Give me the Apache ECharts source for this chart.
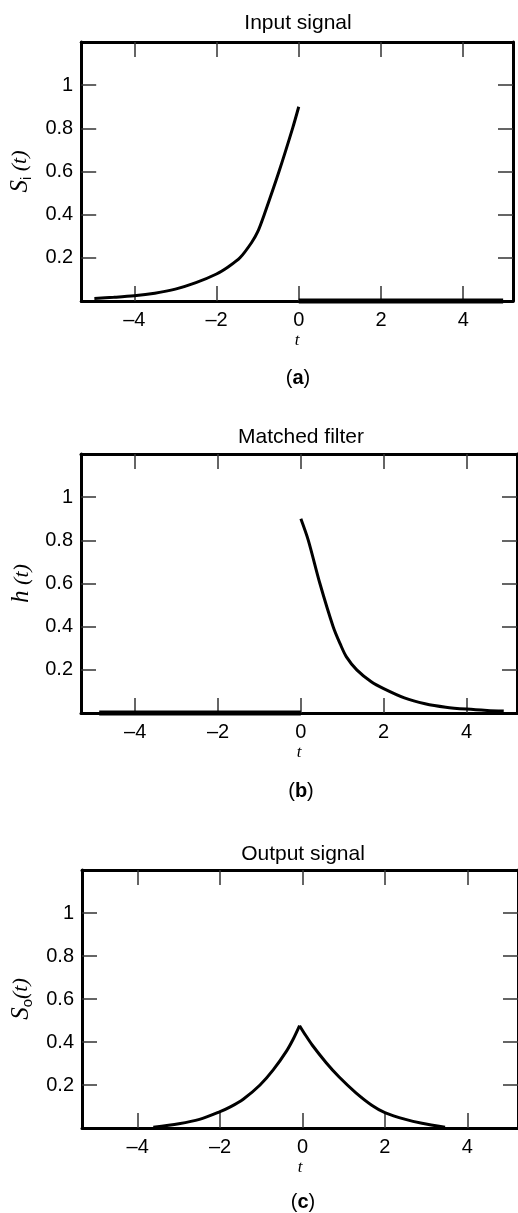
<!DOCTYPE html>
<html>
<head>
<meta charset="utf-8">
<script src="https://cdn.jsdelivr.net/npm/echarts@6/dist/echarts.min.js"></script>
<style>
html,body{margin:0;padding:0;background:#fff;}
#c{width:518px;height:1213px;}
</style>
</head>
<body>
<div id="c"></div>
<script>
// ---- data ----
const titles = ['Input signal', 'Matched filter', 'Output signal'];
const panelLetters = ['a', 'b', 'c'];
const xTickValues = [-4, -2, 0, 2, 4];
const xTickLabels = ['\u20134', '\u20132', '0', '2', '4'];
const yTickValues = [0.2, 0.4, 0.6, 0.8, 1];
const yTickLabels = ['0.2', '0.4', '0.6', '0.8', '1'];

// (a) input signal
const tA = [-4.97, -4.5, -4, -3.5, -3, -2.5, -2, -1.7, -1.43, -1.15, -1.0, -0.84, -0.48, -0.15, 0];
const sA = [0.012, 0.017, 0.024, 0.036, 0.055, 0.085, 0.125, 0.16, 0.2, 0.27, 0.32, 0.4, 0.6, 0.8, 0.9];
const zeroA_t = [0, 4.97];
const zeroA_v = [0, 0];

// (b) matched filter
const tB = [0, 0.18, 0.46, 0.78, 0.95, 1.1, 1.35, 1.7, 2.0, 2.5, 3.0, 3.5, 4.0, 4.5, 4.9];
const hB = [0.9, 0.8, 0.6, 0.4, 0.32, 0.26, 0.2, 0.145, 0.113, 0.07, 0.043, 0.027, 0.018, 0.012, 0.009];
const zeroB_t = [-4.87, 0];
const zeroB_v = [0, 0];

// (c) output signal (left and right of the cusp)
const tCL = [-3.62, -3.0, -2.5, -2.0, -1.75, -1.43, -1.03, -0.71, -0.38, -0.22, -0.07];
const sCL = [0.004, 0.02, 0.04, 0.076, 0.098, 0.135, 0.2, 0.27, 0.36, 0.415, 0.476];
const tCR = [-0.07, 0.08, 0.24, 0.57, 0.89, 1.29, 1.69, 2.0, 2.5, 2.9, 3.46];
const sCR = [0.476, 0.43, 0.385, 0.305, 0.237, 0.165, 0.105, 0.072, 0.04, 0.022, 0.004];

// ---- layout ----
const SANS = 'Liberation Sans, Arial, Helvetica, sans-serif';
const SERIF = 'Liberation Serif, Times New Roman, serif';
const grids = [
  {left: 80, top: 42, width: 433, height: 259, xmin: -5.29, xmax: 5.21},
  {left: 81, top: 454, width: 436, height: 259, xmin: -5.31, xmax: 5.22},
  {left: 82, top: 870, width: 438, height: 258, xmin: -5.35, xmax: 5.23}
];
const titleY = [23, 437, 854];
const letterY = [378, 791, 1202];
const centerX = [298, 301, 303];
const yNames = [
  '{s|S}{sub|i}{p| (t)}',
  '{s|h}{p| (t)}',
  '{s|S}{sub|o}{p|(t)}'
];

const pairs = (xs, ys) => xs.map((x, i) => [x, ys[i]]);
const fmtX = v => { const i = xTickValues.indexOf(v); return i >= 0 ? xTickLabels[i] : ''; };
const fmtY = v => { const i = yTickValues.findIndex(u => Math.abs(u - v) < 1e-9); return i >= 0 ? yTickLabels[i] : ''; };

const lineAxis = {show: true, onZero: false, lineStyle: {color: '#000', width: 3}};
const tickStyle = {color: '#333', width: 1.5};

const option = {
  animation: false,
  backgroundColor: '#fff',
  grid: grids.map(g => ({left: g.left, top: g.top, width: g.width, height: g.height, containLabel: false})),
  xAxis: [],
  yAxis: [],
  series: [],
  graphic: []
};

grids.forEach((g, k) => {
  option.xAxis.push({
    type: 'value', gridIndex: k, position: 'bottom', min: g.xmin, max: g.xmax,
    axisLine: lineAxis,
    axisTick: {show: true, inside: true, length: 15, lineStyle: tickStyle, customValues: xTickValues},
    axisLabel: {show: true, margin: 9, color: '#000', fontSize: 20, fontFamily: SANS, customValues: xTickValues, formatter: fmtX},
    splitLine: {show: false},
    name: 't', nameLocation: 'middle', nameGap: 31,
    nameTextStyle: {fontFamily: SERIF, fontStyle: 'italic', fontSize: 17, color: '#000'}
  });
  option.xAxis.push({
    type: 'value', gridIndex: k, position: 'top', min: g.xmin, max: g.xmax,
    axisLine: lineAxis,
    axisTick: {show: true, inside: true, length: 15, lineStyle: tickStyle, customValues: xTickValues},
    axisLabel: {show: false},
    splitLine: {show: false}
  });
  option.yAxis.push({
    type: 'value', gridIndex: k, position: 'left', min: 0, max: 1.2,
    axisLine: lineAxis,
    axisTick: {show: true, inside: true, length: 15, lineStyle: tickStyle, customValues: yTickValues},
    axisLabel: {show: true, margin: 8, color: '#000', fontSize: 20, fontFamily: SANS, customValues: yTickValues, formatter: fmtY},
    splitLine: {show: false},
    name: yNames[k], nameLocation: 'middle', nameRotate: 90, nameGap: 44,
    nameTextStyle: {
      color: '#000',
      rich: {
        s: {fontFamily: SERIF, fontStyle: 'italic', fontSize: 25, color: '#000', lineHeight: 28, verticalAlign: 'middle'},
        p: {fontFamily: SERIF, fontStyle: 'italic', fontSize: 22, color: '#000', lineHeight: 28, verticalAlign: 'middle'},
        sub: {fontFamily: SANS, fontSize: 15, color: '#000', lineHeight: 28, verticalAlign: 'bottom'}
      }
    }
  });
  option.yAxis.push({
    type: 'value', gridIndex: k, position: 'right', min: 0, max: 1.2,
    axisLine: lineAxis,
    axisTick: {show: true, inside: true, length: 15, lineStyle: tickStyle, customValues: yTickValues},
    axisLabel: {show: false},
    splitLine: {show: false}
  });

  option.graphic.push({
    type: 'text', x: centerX[k], y: titleY[k],
    style: {text: titles[k], font: '21px ' + SANS, fill: '#000', align: 'center', verticalAlign: 'middle', textAlign: 'center', textVerticalAlign: 'middle'}
  });
  option.graphic.push({
    type: 'text', x: centerX[k], y: letterY[k],
    style: {
      text: '({b|' + panelLetters[k] + '})', font: '20px ' + SANS, fill: '#000',
      align: 'center', verticalAlign: 'middle', textAlign: 'center', textVerticalAlign: 'middle',
      rich: {b: {fontWeight: 'bold', fontSize: 20, fontFamily: SANS, fill: '#000', color: '#000'}}
    }
  });
});

function curve(k, xs, ys, width) {
  return {
    type: 'line', xAxisIndex: 2 * k, yAxisIndex: 2 * k,
    data: pairs(xs, ys), showSymbol: false, symbol: 'none',
    smooth: 0.3, clip: false,
    lineStyle: {color: '#000', width: width, cap: 'butt'}, z: 5
  };
}

option.series.push(curve(0, tA, sA, 3));
option.series.push(curve(0, zeroA_t, zeroA_v, 5));
option.series.push(curve(1, tB, hB, 3));
option.series.push(curve(1, zeroB_t, zeroB_v, 5));
option.series.push(curve(2, tCL, sCL, 3));
option.series.push(curve(2, tCR, sCR, 3));

const chart = echarts.init(document.getElementById('c'), null, {renderer: 'canvas'});
chart.setOption(option);
</script>
</body>
</html>
